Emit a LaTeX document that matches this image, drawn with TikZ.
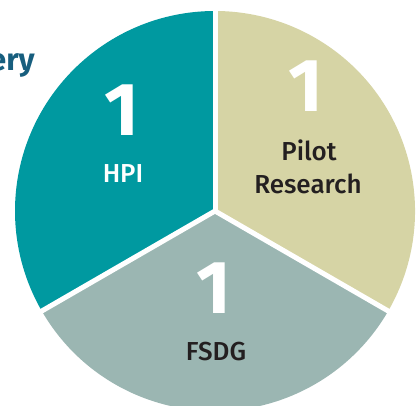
\documentclass[tikz,border=0pt]{standalone}
\usepackage{fontspec}
\usetikzlibrary{calc}
\setmainfont{Fira Sans}
\newfontfamily\medfont{Fira Sans Medium}
\definecolor{hpiteal}{HTML}{0099A0}
\definecolor{pilotbeige}{HTML}{D6D4A5}
\definecolor{fsdggrey}{HTML}{9BB6B2}
\definecolor{titleblue}{HTML}{175E7E}
\definecolor{labeldark}{HTML}{231F20}
\tikzset{
  bignum/.style={font=\fontsize{75}{75}\selectfont\bfseries, text=white, inner sep=0pt, anchor=base},
  seglabel/.style={font=\fontsize{26}{26}\selectfont\medfont, inner sep=0pt, anchor=base},
  sepline/.style={white, line width=5pt},
}
\begin{document}
\begin{tikzpicture}[x=1pt,y=1pt]
\useasboundingbox (0,0) rectangle (417,405);
\clip (0,0) rectangle (417,405);
\coordinate (c) at (215,194);
\fill[hpiteal] (c) -- ++(90:200pt) arc[start angle=90,end angle=210,radius=200pt] -- cycle;
\fill[fsdggrey] (c) -- ++(210:200pt) arc[start angle=210,end angle=330,radius=200pt] -- cycle;
\fill[pilotbeige] (c) -- ++(330:200pt) arc[start angle=-30,end angle=90,radius=200pt] -- cycle;
\coordinate (e1) at ($(c)+(90:210pt)$);
\coordinate (e2) at ($(c)+(210:210pt)$);
\coordinate (e3) at ($(c)+(330:210pt)$);
\draw[sepline] (c) -- (e1);
\draw[sepline] (c) -- (e2);
\draw[sepline] (c) -- (e3);
\node[bignum] (hpinum) at (122,270) {1};
\node[seglabel, text=white] (hpi) at (123,223) {HPI};
\node[bignum] (pilotnum) at (306,293) {1};
\node[seglabel, text=labeldark] (pilot) at (309,245) {Pilot};
\node[seglabel, text=labeldark] (research) at (308,212) {Research};
\node[bignum] (fsdgnum) at (214,92) {1};
\node[seglabel, text=labeldark] (fsdg) at (216,45) {FSDG};
\node[font=\fontsize{31}{31}\selectfont\bfseries, text=titleblue, inner sep=0pt, anchor=base east] (title) at (35,334) {ery};
\end{tikzpicture}
\end{document}
